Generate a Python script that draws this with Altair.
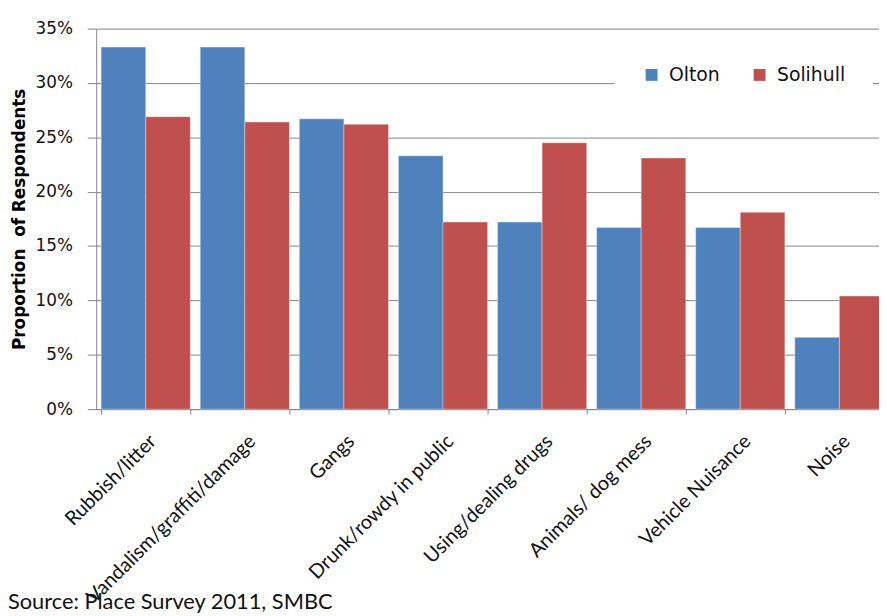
import altair as alt
import pandas as pd

categories = [
    "Rubbish/litter",
    "Vandalism/graffiti/damage",
    "Gangs",
    "Drunk/rowdy in public",
    "Using/dealing drugs",
    "Animals/ dog mess",
    "Vehicle Nuisance",
    "Noise",
]
olton = [33.3, 33.3, 26.7, 23.3, 17.2, 16.7, 16.7, 6.6]
solihull = [26.9, 26.4, 26.2, 17.2, 24.5, 23.1, 18.1, 10.4]
series = ["Olton", "Solihull"]
colors = ["#4F81BD", "#C0504D"]
y_ticks = [0, 0.05, 0.10, 0.15, 0.20, 0.25, 0.30, 0.35]
y_title = "Proportion\u00a0 of Respondents"
source_note = ["Source: Place Survey 2011, SMBC"]

rows = []
for c, o, s in zip(categories, olton, solihull):
    rows.append({"category": c, "series": "Olton", "value": o / 100})
    rows.append({"category": c, "series": "Solihull", "value": s / 100})
df = pd.DataFrame(rows)

grey = "#868686"

bars = alt.Chart(df).mark_bar(
    stroke="#ffffff", strokeWidth=0.7, strokeOpacity=0.5
).encode(
    x=alt.X(
        "category:N",
        sort=categories,
        scale=alt.Scale(paddingInner=0.1, paddingOuter=0.05),
        axis=alt.Axis(
            title=None,
            labelAngle=-45,
            labelFont="Lato",
            labelFontSize=20,
            labelColor="#111111",
            labelPadding=17,
            labelLimit=0,
            tickSize=5,
            tickBand="extent",
            tickColor=grey,
            domainColor=grey,
            grid=False,
        ),
    ),
    xOffset=alt.XOffset("series:N", sort=series),
    y=alt.Y(
        "value:Q",
        scale=alt.Scale(domain=[0, 0.35], nice=False),
        axis=alt.Axis(
            values=y_ticks,
            format=".0%",
            title=y_title,
            titleFont="DejaVu Sans",
            titleFontWeight="bold",
            titleFontSize=17,
            titleColor="#000000",
            titleAngle=270,
            titleAlign="center",
            titleBaseline="middle",
            titleX=-77,
            titleY=192,
            labelFont="DejaVu Sans",
            labelFontSize=17,
            labelColor="#111111",
            labelPadding=15,
            tickSize=9,
            tickColor=grey,
            domainColor=grey,
            gridColor=grey,
            gridWidth=1,
        ),
    ),
    color=alt.Color(
        "series:N",
        sort=series,
        scale=alt.Scale(domain=series, range=colors),
        legend=alt.Legend(
            title=None,
            orient="none",
            legendX=523,
            legendY=9,
            direction="horizontal",
            symbolType="square",
            symbolSize=144,
            symbolStrokeWidth=0,
            symbolOpacity=1,
            labelFont="DejaVu Sans",
            labelFontSize=19,
            labelColor="#111111",
            labelOffset=8,
            columnPadding=30,
            padding=28,
            fillColor="#ffffff",
        ),
    ),
)

note = alt.Chart(pd.DataFrame({"t": source_note})).mark_text(
    align="left", baseline="alphabetic", font="Lato", fontSize=22, color="#111111"
).encode(
    x=alt.value(-89),
    y=alt.value(586),
    text="t:N",
)

chart = alt.layer(bars, note).properties(
    width=800,
    height=384,
    autosize=alt.AutoSizeParams(type="none"),
    padding={"left": 89, "top": 18, "right": -10, "bottom": 206},
    background="#ffffff",
).configure_view(stroke=None)

chart.save("out.html", embed_options={"renderer": "svg", "actions": False})
